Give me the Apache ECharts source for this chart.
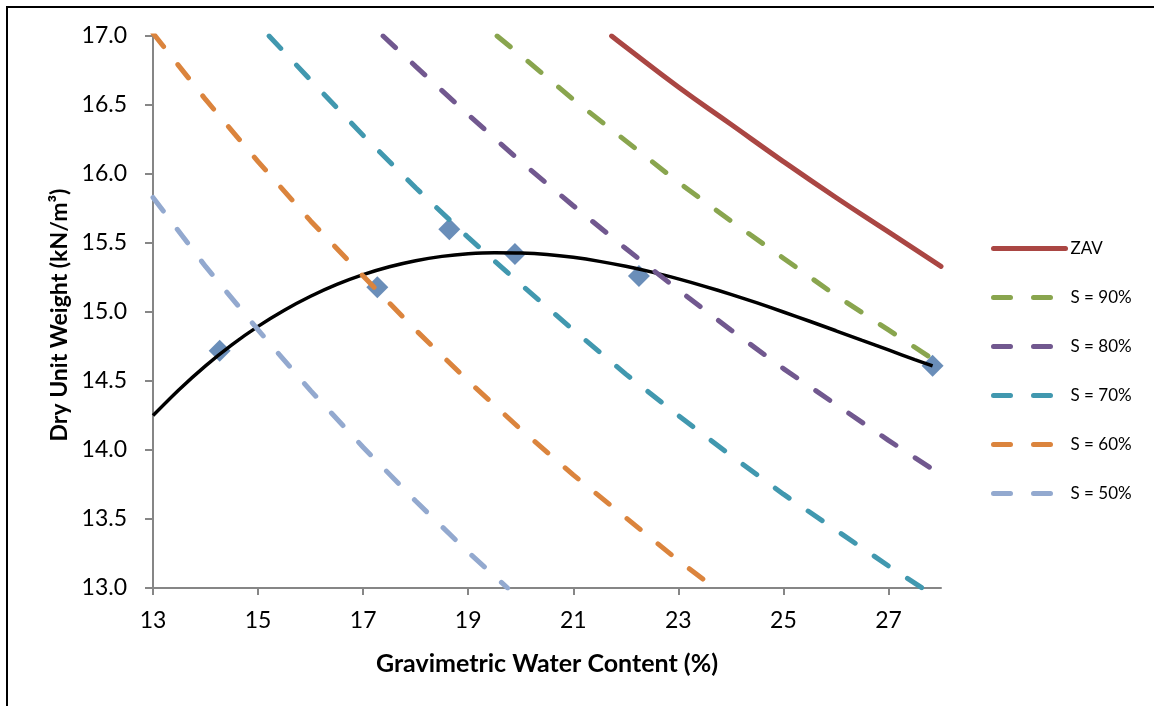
<!DOCTYPE html>
<html>
<head>
<meta charset="utf-8">
<script src="https://cdn.jsdelivr.net/npm/echarts@6/dist/echarts.min.js"></script>
<style>
html,body{margin:0;padding:0;background:#fff;}
#chart{width:1154px;height:706px;}
</style>
</head>
<body>
<div id="chart"></div>
<script>
// ---- data ----
const xTicks = [13, 15, 17, 19, 21, 23, 25, 27];
const measured = [[14.27,14.72],[17.27,15.18],[18.64,15.60],[19.89,15.42],[22.25,15.26],[27.84,14.61]];
const trend = [[13,14.25],[13.5,14.439],[14,14.61],[14.5,14.762],[15,14.896],[15.5,15.013],[16,15.114],[16.5,15.2],[17,15.271],[17.5,15.328],[18,15.372],[18.5,15.403],[19,15.422],[19.5,15.43],[20,15.428],[20.5,15.417],[21,15.396],[21.5,15.367],[22,15.331],[22.5,15.289],[23,15.24],[23.5,15.186],[24,15.128],[24.5,15.066],[25,15.0],[25.5,14.933],[26,14.864],[26.5,14.794],[27,14.725],[27.5,14.655],[27.84,14.609]];
const zav = [[21.73,17.0],[22,16.92],[23,16.63],[24,16.36],[25,16.09],[26,15.83],[27,15.58],[28,15.33]];
const s90 = [[19.55,17.0],[20,16.86],[21,16.54],[22,16.24],[23,15.94],[24,15.66],[25,15.39],[26,15.12],[27,14.87],[28,14.62]];
const s80 = [[17.38,17.0],[18,16.78],[19,16.43],[20,16.09],[21,15.77],[22,15.46],[23,15.16],[24,14.87],[25,14.59],[26,14.33],[27,14.07],[28,13.82]];
const s70 = [[15.21,17.0],[16,16.68],[17,16.28],[18,15.90],[19,15.54],[20,15.20],[21,14.87],[22,14.55],[23,14.25],[24,13.96],[25,13.68],[26,13.42],[27,13.16],[27.64,13.0]];
const s60 = [[13,17.02],[14,16.54],[15,16.09],[16,15.66],[17,15.26],[18,14.87],[19,14.50],[20,14.15],[21,13.82],[22,13.51],[23,13.20],[23.69,13.0]];
const s50 = [[13,15.83],[14,15.33],[15,14.87],[16,14.43],[17,14.02],[18,13.63],[19,13.26],[19.75,13.0]];
const names = ['ZAV', 'S = 90%', 'S = 80%', 'S = 70%', 'S = 60%', 'S = 50%'];

const FONT = 'Lato';
const chart = echarts.init(document.getElementById('chart'), null, {renderer: 'canvas'});
const dash = [17, 23];
function dashed(name, data, color) {
  return {
    name, type: 'line', data, symbol: 'none', smooth: false, z: 3,
    lineStyle: {color, width: 5, type: dash, cap: 'round'},
    itemStyle: {color}
  };
}
chart.setOption({
  animation: false,
  backgroundColor: '#fff',
  grid: {left: 153, top: 36, right: 213, bottom: 118, containLabel: false},
  xAxis: {
    type: 'value', min: 13, max: 28, interval: 2,
    name: 'Gravimetric Water Content (%)', nameLocation: 'middle', nameGap: 63,
    nameTextStyle: {fontFamily: FONT, fontWeight: 'bold', fontSize: 25, color: '#000'},
    axisLine: {lineStyle: {color: '#868686', width: 2}},
    axisTick: {show: true, length: 7, lineStyle: {color: '#868686', width: 2}, customValues: xTicks},
    axisLabel: {fontFamily: FONT, fontSize: 23, color: '#000', margin: 21, customValues: xTicks},
    splitLine: {show: false}
  },
  yAxis: {
    type: 'value', min: 13, max: 17, interval: 0.5,
    axisLine: {show: true, lineStyle: {color: '#868686', width: 2}},
    axisTick: {show: true, length: 8, lineStyle: {color: '#868686', width: 2}},
    axisLabel: {fontFamily: FONT, fontSize: 23, color: '#000', margin: 26, formatter: v => v.toFixed(1)},
    splitLine: {show: false}
  },
  legend: {
    data: names, orient: 'vertical', left: 986, top: 235, padding: 5,
    itemWidth: 72, itemHeight: 20, itemGap: 32,
    textStyle: {fontFamily: FONT, fontSize: 17, color: '#000'},
    lineStyle: {width: 5},
    itemStyle: {opacity: 0},
    selectedMode: false
  },
  graphic: [
    {type: 'rect', shape: {x: 7, y: 7, width: 1400, height: 900}, style: {fill: 'none', stroke: '#000', lineWidth: 2}, silent: true, z: 0},
    {type: 'text', x: 60, y: 315, rotation: Math.PI / 2,
     style: {text: 'Dry Unit Weight (kN/m³)', fontFamily: FONT, fontWeight: 'bold', fontSize: 23, fill: '#000', align: 'center', verticalAlign: 'middle'}}
  ],
  series: [
    {name: 'measured', type: 'scatter', data: measured, symbol: 'diamond', symbolSize: 22, itemStyle: {color: '#4572A7'}, z: 1},
    {name: 'trend', type: 'line', data: trend, symbol: 'none', smooth: 0.3, lineStyle: {color: '#000', width: 3.5}, z: 2},
    dashed('S = 50%', s50, '#93A9CF'),
    dashed('S = 60%', s60, '#DB843D'),
    dashed('S = 70%', s70, '#4198AF'),
    dashed('S = 80%', s80, '#71588F'),
    dashed('S = 90%', s90, '#89A54E'),
    {name: 'ZAV', type: 'line', data: zav, symbol: 'none', smooth: true, z: 3,
     lineStyle: {color: '#AA4643', width: 5, cap: 'round'}, itemStyle: {color: '#AA4643'}}
  ]
});
</script>
</body>
</html>
